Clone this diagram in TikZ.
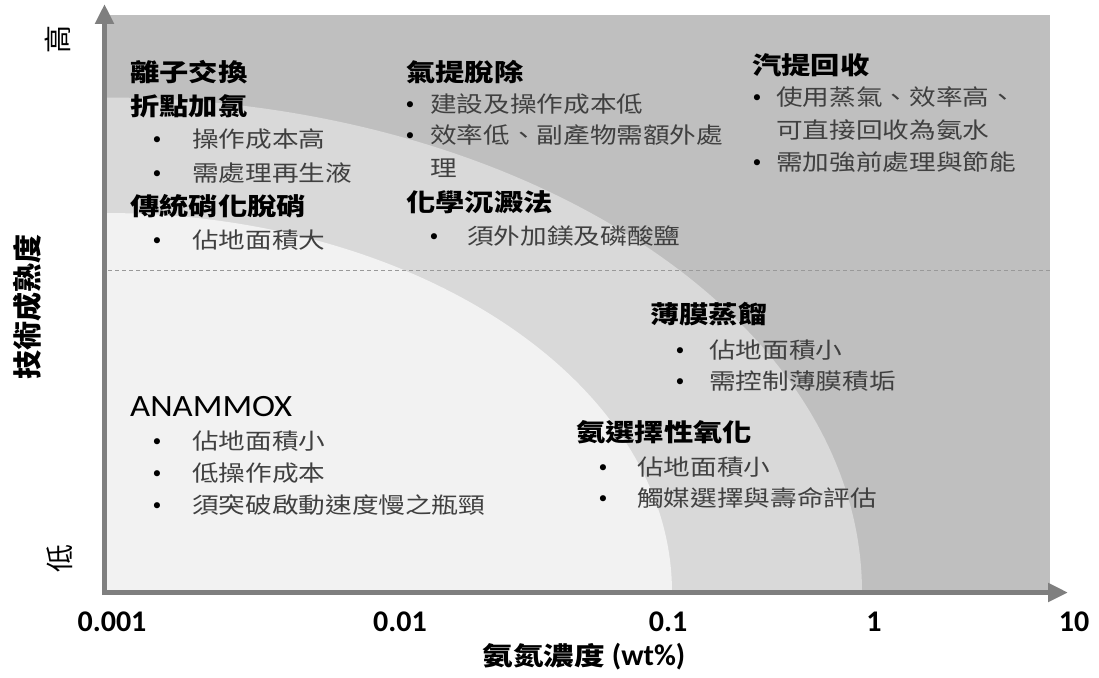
\documentclass[tikz,border=0pt]{standalone}
\usepackage{fontspec}
\usetikzlibrary{arrows.meta}
\newfontfamily\cjk[FakeStretch=1.2]{Noto Sans CJK TC}
\newfontfamily\cjkplain{Noto Sans CJK TC}
\newfontfamily\calib{Carlito}
\newfontfamily\calibw[FakeStretch=1.12]{Carlito}
\newfontfamily\dejavu{DejaVu Sans}
\definecolor{darkreg}{HTML}{BFBFBF}
\definecolor{midreg}{HTML}{D9D9D9}
\definecolor{lightreg}{HTML}{F2F2F2}
\definecolor{axisgray}{HTML}{7F7F7F}
\definecolor{txtgray}{HTML}{404040}
\tikzset{
  head/.style={anchor=west, inner sep=0pt, text=black, font={\cjk\bfseries\fontsize{24.4}{28}\selectfont}},
  body/.style={anchor=west, inner sep=0pt, text=txtgray, font={\cjk\fontsize{22.2}{26}\selectfont}},
  bul/.style={inner sep=0pt, anchor=base, yshift=-8.5pt, text=black, font={\dejavu\fontsize{21}{24}\selectfont}},
  tick/.style={inner sep=0pt, text=black, font={\calib\bfseries\fontsize{30}{34}\selectfont}},
  axisline/.style={draw=axisgray, line width=5pt, -{Triangle[length=20pt, width=18pt]}},
  guide/.style={draw=gray!80, line width=0.8pt, dash pattern=on 4pt off 3pt},
}
\begin{document}
\begin{tikzpicture}[x=1pt, y=-1pt]
\useasboundingbox (0,0) rectangle (1099,677);
% regions
\coordinate (O) at (104.5,592.5);
\coordinate (TR) at (1050,15);
\fill[darkreg] (O) rectangle (TR);
\fill[midreg] (O) -- (104.5,97.5) arc[start angle=-90, end angle=0, x radius=757.5, y radius=495] -- cycle;
\fill[lightreg] (O) -- (104.5,213) arc[start angle=-90, end angle=0, x radius=567.5, y radius=379.5] -- cycle;
% dashed guide
\coordinate (gl) at (108,270);
\coordinate (gr) at (1050,270);
\draw[guide] (gl) -- (gr);
% axes
\coordinate (xend) at (1068,592.5);
\coordinate (yend) at (104.5,4);
\draw[axisline] ([xshift=-2.5pt]O) -- (xend);
\draw[axisline] ([yshift=-2.5pt]O) -- (yend);
% axis labels
\node[inner sep=0pt, rotate=90, font={\cjkplain\bfseries\fontsize{29}{32}\selectfont}] (ylab) at (27,307) {技術成熟度};
\node[inner sep=0pt, rotate=90, font={\cjkplain\fontsize{28}{32}\selectfont}] (yhi) at (58,40) {高};
\node[inner sep=0pt, rotate=90, font={\cjkplain\fontsize{28}{32}\selectfont}] (ylo) at (60,558) {低};
\node[tick] (t1) at (112,622) {0.001};
\node[tick] (t2) at (400,622) {0.01};
\node[tick] (t3) at (668,622) {0.1};
\node[tick] (t4) at (874,622) {1};
\node[tick] (t5) at (1074,622) {10};
\node[inner sep=0pt] (xlab) at (584,657) {{\cjk\bfseries\fontsize{25.5}{30}\selectfont 氨氮濃度}{\calib\bfseries\fontsize{30}{34}\selectfont\ (wt\%)}};
% left column
\node[head] (h1) at (130,72) {離子交換};
\node[head] (h2) at (130,106) {折點加氯};
\node[bul] (b1) at (157,139) {•}; \node[body] (l1) at (192,139) {操作成本高};
\node[bul] (b2) at (157,173) {•}; \node[body] (l2) at (192,173) {需處理再生液};
\node[head] (h3) at (130,206) {傳統硝化脫硝};
\node[bul] (b3) at (157,240) {•}; \node[body] (l3) at (192,240) {佔地面積大};
% middle column
\node[head] (h4) at (406,72) {氣提脫除};
\node[bul] (b4) at (410,104) {•}; \node[body] (l4) at (430,104) {建設及操作成本低};
\node[bul] (b5) at (410,135) {•}; \node[body] (l5) at (430,135) {效率低、副產物需額外處};
\node[body] (l5b) at (430,168) {理};
\node[head] (h5) at (406,202) {化學沉澱法};
\node[bul] (b6) at (434,236) {•}; \node[body] (l6) at (467,236) {須外加鎂及磷酸鹽};
% right column
\node[head] (h6) at (752,65) {汽提回收};
\node[bul] (b7) at (757,97) {•}; \node[body] (l7) at (776,97) {使用蒸氣、效率高、};
\node[body] (l7b) at (776,130) {可直接回收為氨水};
\node[bul] (b8) at (757,162) {•}; \node[body] (l8) at (776,162) {需加強前處理與節能};
% lower right
\node[head] (h7) at (650,314) {薄膜蒸餾};
\node[bul] (b9) at (680,350) {•}; \node[body] (l9) at (709,350) {佔地面積小};
\node[bul] (b10) at (680,381) {•}; \node[body] (l10) at (709,381) {需控制薄膜積垢};
\node[head] (h8) at (576,432) {氨選擇性氧化};
\node[bul] (b11) at (603,467) {•}; \node[body] (l11) at (637,467) {佔地面積小};
\node[bul] (b12) at (603,498) {•}; \node[body] (l12) at (637,498) {觸媒選擇與壽命評估};
% lower left
\node[anchor=west, inner sep=0pt, font={\calibw\fontsize{31}{34}\selectfont}] (h9) at (130,407) {ANAMMOX};
\node[bul] (b13) at (157,441) {•}; \node[body] (l13) at (192,441) {佔地面積小};
\node[bul] (b14) at (157,473) {•}; \node[body] (l14) at (192,473) {低操作成本};
\node[bul] (b15) at (157,505) {•}; \node[body] (l15) at (192,505) {須突破啟動速度慢之瓶頸};
\end{tikzpicture}
\end{document}
